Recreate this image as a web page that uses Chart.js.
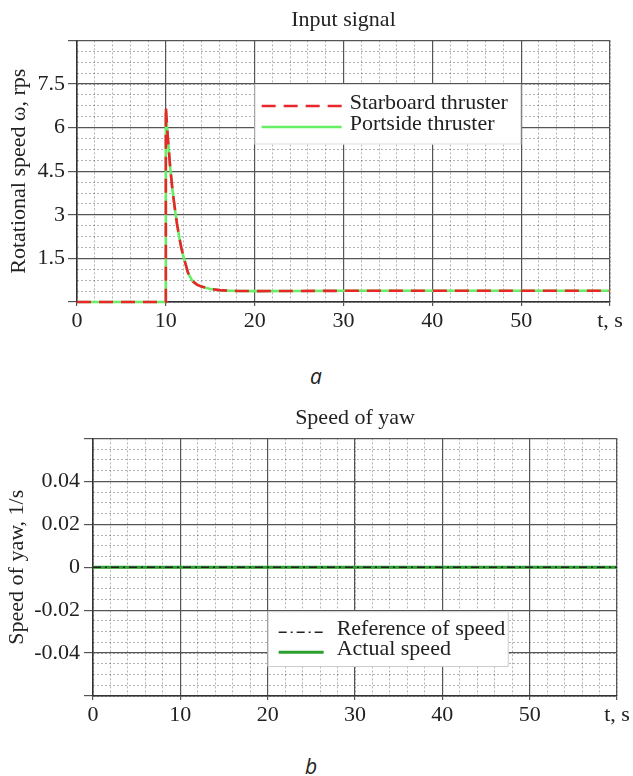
<!DOCTYPE html>
<html>
<head>
    <title>Thruster input and yaw speed</title>
    <meta charset="utf-8" />
    <script src="https://cdn.jsdelivr.net/npm/chart.js@4.4.0/dist/chart.umd.min.js"></script>
    <style>
        html, body {
            margin: 0;
            padding: 0;
            background: #fff;
        }
        #wrap {
            position: relative;
            width: 633px;
            height: 776px;
        }
        canvas {
            position: absolute;
            left: 0;
        }
        .cap {
            position: absolute;
            width: 20px;
            text-align: center;
            font: italic 21px "Open Sans", sans-serif;
            line-height: 28px;
            color: #222;
        }
    </style>
</head>
<body>
<div id="wrap">
    <canvas id="inputChart" width="633" height="345" style="top:0"></canvas>
    <div class="cap" style="left:306px; top:362px">a</div>
    <canvas id="yawChart" width="633" height="345" style="top:398px"></canvas>
    <div class="cap" style="left:301px; top:752px">b</div>
</div>

<script>
    // ---- input signal (rps) ----
    const timeIn = [0, 10, 10, 10.25, 10.5, 10.75, 11, 11.25, 11.5, 11.75, 12, 12.5, 13, 13.5, 14, 15, 16, 17, 18, 20, 25, 30, 40, 50, 60];
    const starboardRps = [0, 0, 6.72, 5.55, 4.6, 3.85, 3.25, 2.7, 2.25, 1.85, 1.55, 1.0, 0.72, 0.6, 0.53, 0.45, 0.41, 0.39, 0.38, 0.375, 0.38, 0.385, 0.385, 0.385, 0.385];
    const portsideRps = [0, 0, 6.6, 5.55, 4.6, 3.85, 3.25, 2.7, 2.25, 1.85, 1.55, 1.0, 0.72, 0.6, 0.53, 0.45, 0.41, 0.39, 0.38, 0.375, 0.38, 0.385, 0.385, 0.385, 0.385];

    // ---- speed of yaw (1/s) ----
    const timeYaw = [0, 10, 20, 30, 40, 50, 60];
    const referenceYaw = [0, 0, 0, 0, 0, 0, 0];
    const actualYaw = [0, 0, 0, 0, 0, 0, 0];

    // ---- ticks ----
    const timeTicks = [0, 10, 20, 30, 40, 50, 60];
    const timeTickLabels = ['0', '10', '20', '30', '40', '50', 't, s'];
    const rpsTicks = [0, 1.5, 3, 4.5, 6, 7.5, 9];
    const rpsTickLabels = ['', '1.5', '3', '4.5', '6', '7.5', ''];
    const yawTicks = [-0.06, -0.04, -0.02, 0, 0.02, 0.04, 0.06];
    const yawTickLabels = ['', '-0.04', '-0.02', '0', '0.02', '0.04', ''];

    const serif = { family: '"Liberation Serif", "Times New Roman", serif', size: 22 };
    const ink = '#222';
    const majorGrid = '#555';
    const minorGrid = 'rgba(0,0,0,0.3)';

    const toPoints = (xs, ys) => xs.map((x, i) => ({ x: x, y: ys[i] }));

    // legend drawn inside the plot, box corners given in data units
    const insetLegend = {
        id: 'insetLegend',
        afterDatasetsDraw(chart, args, opts) {
            const { ctx, scales } = chart;
            const left = scales.x.getPixelForValue(opts.from[0]);
            const right = scales.x.getPixelForValue(opts.to[0]);
            const top = scales.y.getPixelForValue(opts.from[1]);
            const bottom = scales.y.getPixelForValue(opts.to[1]);
            ctx.save();
            ctx.fillStyle = '#fff';
            ctx.fillRect(left, top, right - left, bottom - top);
            ctx.strokeStyle = opts.borderColor;
            ctx.lineWidth = 1;
            ctx.strokeRect(left + 0.5, top + 0.5, right - left - 1, bottom - top - 1);
            ctx.font = serif.size + 'px ' + serif.family;
            ctx.textBaseline = 'middle';
            chart.data.datasets.forEach((ds, i) => {
                const y = top + opts.rowTop + i * opts.rowGap;
                ctx.strokeStyle = ds.borderColor;
                ctx.lineWidth = ds.borderWidth;
                ctx.setLineDash(ds.borderDash || []);
                ctx.beginPath();
                ctx.moveTo(left + opts.sampleLeft, y);
                ctx.lineTo(left + opts.sampleLeft + opts.sampleWidth, y);
                ctx.stroke();
                ctx.setLineDash([]);
                ctx.fillStyle = ink;
                ctx.fillText(ds.label, left + opts.textLeft, y + opts.textShift);
            });
            ctx.restore();
        }
    };

    function makeChart(id, o) {
        return new Chart(document.getElementById(id), {
            type: 'line',
            data: { datasets: o.datasets },
            plugins: [insetLegend],
            options: {
                responsive: false,
                animation: false,
                layout: { padding: { left: 0, right: o.padRight, top: 0, bottom: 0 } },
                elements: { point: { radius: 0 }, line: { tension: 0 } },
                plugins: {
                    legend: { display: false },
                    tooltip: { enabled: false },
                    title: {
                        display: true,
                        fullSize: false,
                        text: o.title,
                        color: ink,
                        font: { ...serif, weight: 'normal' },
                        padding: { top: 7, bottom: 7 }
                    },
                    insetLegend: o.legend
                },
                scales: {
                    // minor grid first so the major lines sit on top
                    xm: {
                        type: 'linear', position: 'bottom', min: 0, max: 60,
                        ticks: { display: false, stepSize: 2, maxTicksLimit: 200 },
                        grid: { color: minorGrid, lineWidth: 1, drawTicks: false, z: -2 },
                        border: { display: false, dash: [2, 2] }
                    },
                    ym: {
                        type: 'linear', position: 'left', min: o.yTicks[0], max: o.yTicks[o.yTicks.length - 1],
                        ticks: { display: false, stepSize: o.yMinorStep, maxTicksLimit: 200 },
                        grid: { color: minorGrid, lineWidth: 1, drawTicks: false, z: -2 },
                        border: { display: false, dash: [2, 2] }
                    },
                    x: {
                        type: 'linear', position: 'bottom', min: 0, max: 60,
                        afterBuildTicks: s => { s.ticks = timeTicks.map(v => ({ value: v })); },
                        afterFit: s => { s.height = o.xHeight; },
                        ticks: {
                            autoSkip: false, maxRotation: 0, padding: 2, color: ink, font: serif,
                            callback: (v, i) => timeTickLabels[i]
                        },
                        grid: { color: majorGrid, lineWidth: 1.2, tickLength: 4, tickColor: majorGrid },
                        border: { color: '#333', width: 1.5 }
                    },
                    y: {
                        type: 'linear', position: 'left', min: o.yTicks[0], max: o.yTicks[o.yTicks.length - 1],
                        afterBuildTicks: s => { s.ticks = o.yTicks.map(v => ({ value: v })); },
                        afterFit: s => { s.width = o.yWidth; },
                        ticks: {
                            autoSkip: false, padding: o.yTickPad, color: ink, font: serif,
                            callback: (v, i) => o.yLabels[i]
                        },
                        grid: { color: majorGrid, lineWidth: 1.2, tickLength: 9, tickColor: majorGrid },
                        border: { color: '#333', width: 1.5 },
                        title: {
                            display: true, text: o.yTitle, color: ink, font: serif,
                            padding: { top: o.yTitlePad, bottom: 0 }
                        }
                    }
                }
            }
        });
    }

    makeChart('inputChart', {
        title: 'Input signal',
        yTitle: 'Rotational speed ω, rps',
        yTicks: rpsTicks,
        yLabels: rpsTickLabels,
        yMinorStep: 0.375,
        yWidth: 77,
        yTickPad: 3,
        yTitlePad: 6,
        xHeight: 43,
        padRight: 23,
        datasets: [
            {
                label: 'Starboard thruster',
                data: toPoints(timeIn, starboardRps),
                borderColor: '#e8262c',
                borderWidth: 2.6,
                borderDash: [14, 8],
                clip: 4
            },
            {
                label: 'Portside thruster',
                data: toPoints(timeIn, portsideRps),
                borderColor: '#66ee66',
                borderWidth: 2.6,
                clip: 4
            }
        ],
        legend: {
            from: [20, 7.5], to: [50, 5.42], borderColor: '#ddd',
            sampleLeft: 7, sampleWidth: 80, textLeft: 95, rowTop: 22, rowGap: 21, textShift: -3
        }
    });

    makeChart('yawChart', {
        title: 'Speed of yaw',
        yTitle: 'Speed of yaw, 1/s',
        yTicks: yawTicks,
        yLabels: yawTickLabels,
        yMinorStep: 0.005,
        yWidth: 93,
        yTickPad: 4,
        yTitlePad: 4,
        xHeight: 47,
        padRight: 16,
        datasets: [
            {
                label: 'Reference of speed',
                data: toPoints(timeYaw, referenceYaw),
                borderColor: '#222',
                borderWidth: 1.4,
                borderDash: [8, 4, 2, 4],
                clip: 4
            },
            {
                label: 'Actual speed',
                data: toPoints(timeYaw, actualYaw),
                borderColor: '#2ca02c',
                borderWidth: 3,
                clip: 4
            }
        ],
        legend: {
            from: [20, -0.0205], to: [47.6, -0.0465], borderColor: '#ccc',
            sampleLeft: 11, sampleWidth: 45, textLeft: 69, rowTop: 21, rowGap: 20, textShift: -3
        }
    });
</script>
</body>
</html>
